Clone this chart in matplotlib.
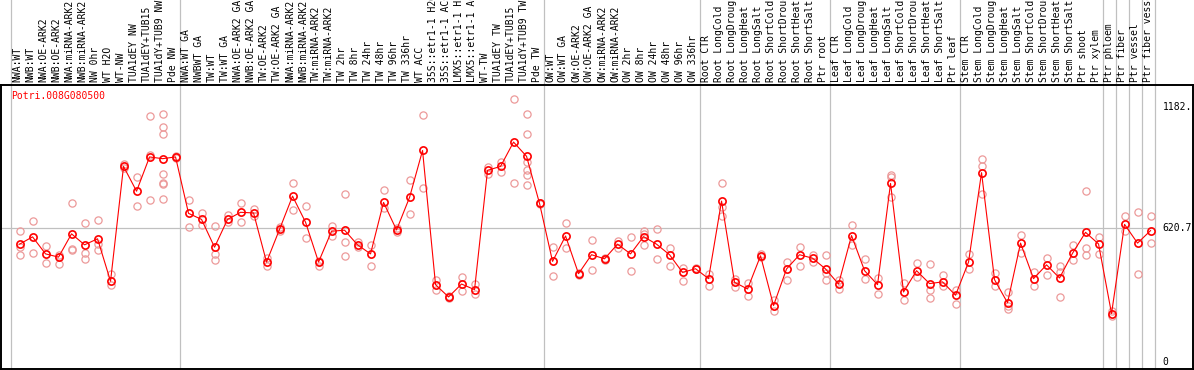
import matplotlib
matplotlib.use("Agg")
import matplotlib.pyplot as plt
from matplotlib.transforms import blended_transform_factory

W, H = 1194, 370

GENE = "Potri.008G080500"

LABELS = [
    # group 1
    "NWA:WT", "NWB:WT", "NWA:OE-ARK2", "NWB:OE-ARK2", "NWA:miRNA-ARK2",
    "NWB:miRNA-ARK2", "NW 0hr", "WT H2O", "WT-NW", "TUA1dEY NW",
    "TUA1dEY+TUB15", "TUA1dY+TUB9 NW", "Pde NW",
    # group 2
    "NWA:WT GA", "NWBWT GA", "TW:WT", "TW:WT GA", "NWA:OE-ARK2 GA",
    "NWB:OE-ARK2 GA", "TW:OE-ARK2", "TW:OE-ARK2 GA", "NWA:miRNA-ARK2",
    "NWB:miRNA-ARK2", "TW:miRNA-ARK2", "TW:miRNA-ARK2", "TW 2hr", "TW 8hr",
    "TW 24hr", "TW 48hr", "TW 96hr", "TW 336hr", "WT ACC", "35S::etr1-1 H2O",
    "35S::etr1-1 ACC", "LMX5::etr1-1 H2O", "LMX5::etr1-1 ACC", "WT-TW",
    "TUA1dEY TW", "TUA1dEY+TUB15", "TUA1dY+TUB9 TW", "Pde TW",
    # group 3
    "OW:WT", "OW:WT GA", "OW:OE-ARK2", "OW:OE-ARK2 GA", "OW:miRNA-ARK2",
    "OW:miRNA-ARK2", "OW 2hr", "OW 8hr", "OW 24hr", "OW 48hr", "OW 96hr",
    "OW 336hr",
    # root
    "Root CTR", "Root LongCold", "Root LongDrought", "Root LongHeat",
    "Root LongSalt", "Root ShortCold", "Root ShortDrought", "Root ShortHeat",
    "Root ShortSalt", "Ptr root",
    # leaf
    "Leaf CTR", "Leaf LongCold", "Leaf LongDrought", "Leaf LongHeat",
    "Leaf LongSalt", "Leaf ShortCold", "Leaf ShortDrought", "Leaf ShortHeat",
    "Leaf ShortSalt", "Ptr leaf",
    # stem
    "Stem CTR", "Stem LongCold", "Stem LongDrought", "Stem LongHeat",
    "Stem LongSalt", "Stem ShortCold", "Stem ShortDrought", "Stem ShortHeat",
    "Stem ShortSalt", "Ptr shoot", "Ptr xylem",
    # tissues
    "Ptr phloem", "Ptr fiber", "Ptr vessel", "Ptr fiber vessel",
]

MEANS = [
    547, 581, 502, 487, 595, 544, 572, 375, 908, 793, 952, 944, 952,
    690, 662, 533, 662, 695, 692, 464, 616, 770, 649, 464, 607, 612, 544,
    502, 741, 613, 764, 982, 359, 302, 362, 336, 890, 908, 1021, 955, 736,
    467, 585, 410, 498, 479, 547, 502, 582, 547, 498, 416, 433,
    387, 747, 370, 339, 493, 262, 432, 498, 482, 432,
    362, 587, 424, 359, 829, 325, 424, 364, 372, 310,
    464, 879, 382, 275, 552, 387, 451, 390, 505, 602, 548,
    225, 639, 552, 610,
]

REPLICATES = [
    [607, 536, 498], [655, 505], [539, 459], [495, 457], [736, 524, 520],
    [644, 505, 478], [659, 548, 518], [410, 359], [918, 900], [859, 724],
    [1144, 959, 751], [1152, 1093, 1059, 872, 832, 825, 759], [958, 946],
    [752, 626], [690, 636], [631, 502, 474], [682, 651], [736, 649],
    [709, 680], [482, 448], [625, 608], [832, 705], [724, 575], [470, 448],
    [631, 585], [778, 559, 490], [559, 533], [544, 448], [798, 713],
    [620, 605], [844, 686], [1149, 806], [382, 333], [308, 296], [395, 331],
    [362, 316], [905, 872], [928, 882], [1221, 833],
    [1152, 1060, 928, 893, 866, 824], [740, 733],
    [536, 401], [644, 530], [415, 405], [567, 425], [485, 474], [564, 529],
    [579, 422], [610, 596, 544], [617, 478], [529, 448], [436, 378],
    [437, 430],
    [409, 355], [829, 721, 678], [387, 347], [366, 308], [500, 487],
    [287, 236], [462, 382], [536, 444], [497, 464], [498, 413, 382],
    [382, 341], [636, 544], [478, 385], [391, 316], [866, 858, 764],
    [367, 290], [459, 395], [455, 336, 298], [405, 351], [336, 271],
    [502, 432], [944, 908, 782], [413, 355], [324, 260, 244], [590, 505],
    [416, 355], [482, 405], [448, 420, 302], [544, 474], [793, 529, 495],
    [581, 501],
    [239, 213], [678, 610], [695, 410], [678, 552],
]

GROUP_EDGES = [0, 13, 41, 53, 63, 73, 84, 85, 86, 87, 88]
REF_VALUE = 620.7
Y_TICKS = [(1182, "1182."), (620.7, "620.7"), (0, "0")]

RED = "#ff0000"
PINK = "#ec9a9a"
GRID = "#c0c0c0"


def main() -> None:
    plt.rcParams["font.family"] = ["DejaVu Sans Mono"]

    fig = plt.figure(figsize=(W / 100, H / 100), dpi=100)
    # plot box in pixels: x 1..1193, y 84.7..368.7
    ax = fig.add_axes([1 / W, 1 - 368.7 / H, 1192 / W, 284 / H])

    px_per_col = 13.0
    x0_px = 10.7
    ax.set_xlim((1 - x0_px) / px_per_col, (1193 - x0_px) / px_per_col)
    ax.set_ylim(-31.1, 1287.4)

    for spine in ax.spines.values():
        spine.set_color("black")
        spine.set_linewidth(1.4)
    ax.set_xticks([])
    ax.set_yticks([])

    top_frac = 368.7 / 284
    for edge in GROUP_EDGES:
        ax.axvline(edge, ymin=0, ymax=top_frac, color=GRID, lw=0.9,
                   clip_on=False, zorder=1)
    ax.hlines(REF_VALUE, ax.get_xlim()[0], GROUP_EDGES[-1], color=GRID,
              lw=0.9, zorder=1)

    xs = [i + 0.68 for i in range(len(MEANS))]

    for x, reps in zip(xs, REPLICATES):
        ax.plot([x] * len(reps), reps, linestyle="none", marker="o",
                markersize=5.2, markerfacecolor="none", markeredgecolor=PINK,
                markeredgewidth=0.9, zorder=2)

    ax.plot(xs, MEANS, color=RED, lw=0.8, zorder=3)
    ax.plot(xs, MEANS, linestyle="none", marker="o", markersize=5.2,
            markerfacecolor="none", markeredgecolor=RED,
            markeredgewidth=1.2, zorder=4)

    lab_tr = blended_transform_factory(ax.transData, ax.transAxes)
    for i, label in enumerate(LABELS):
        ax.text(i + 0.5, 1 + 3 / 284, label, transform=lab_tr, rotation=90,
                ha="center", va="bottom", fontsize=7, color="black",
                clip_on=False)

    ax.text(0.0, 1 - 6.5 / 284, GENE, transform=lab_tr, ha="left",
            va="top", fontsize=7, color=RED)

    tick_tr = blended_transform_factory(fig.transFigure, ax.transData)
    for val, txt in Y_TICKS:
        ax.text(1162.5 / W, val, txt, transform=tick_tr, ha="left",
                va="center", fontsize=7, color="black")

    fig.savefig("out.png", dpi=100)
    plt.close(fig)


if __name__ == "__main__":
    main()
